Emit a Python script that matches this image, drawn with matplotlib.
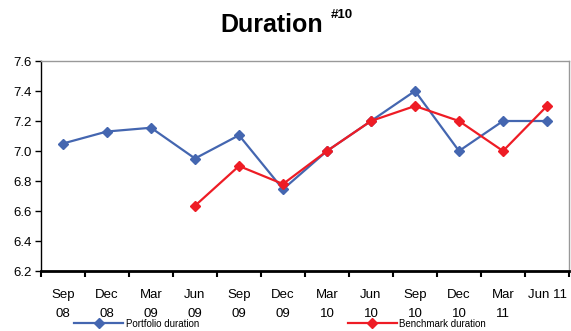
import matplotlib
matplotlib.use("Agg")
import matplotlib.pyplot as plt
from matplotlib.lines import Line2D

plt.rcParams['font.family'] = ['Liberation Sans', 'DejaVu Sans']

quarters = ['Sep\n08', 'Dec\n08', 'Mar\n09', 'Jun\n09', 'Sep\n09', 'Dec\n09',
            'Mar\n10', 'Jun\n10', 'Sep\n10', 'Dec\n10', 'Mar\n11', 'Jun 11\n ']
portfolio = [7.05, 7.13, 7.155, 6.95, 7.105, 6.745, 7.0, 7.2, 7.4, 7.0, 7.2, 7.2]
bench_idx = [3, 4, 5, 6, 7, 8, 9, 10, 11]
benchmark = [6.635, 6.9, 6.78, 7.0, 7.2, 7.3, 7.2, 7.0, 7.3]

blue = '#4466B0'
red = '#EE1C25'

fig = plt.figure(figsize=(5.71, 3.31), dpi=100)
ax = fig.add_axes([41/571, 1-271/331, 528/571, 210/331])

x = list(range(len(quarters)))
ax.plot(x, portfolio, color=blue, lw=1.6, marker='D', ms=5.5, zorder=3)
ax.plot(bench_idx, benchmark, color=red, lw=1.6, marker='D', ms=5.5, zorder=4)

ax.set_xlim(-0.5, len(quarters) - 0.5)
ax.set_ylim(6.2, 7.6)
ax.set_yticks([6.2, 6.4, 6.6, 6.8, 7.0, 7.2, 7.4, 7.6])
ax.set_yticklabels(['%.1f' % v for v in ax.get_yticks()], fontsize=9.5)
ax.set_xticks([i - 0.5 for i in range(len(quarters) + 1)])
ax.set_xticklabels([])
ax.set_xticks(x, minor=True)
ax.set_xticklabels(quarters, minor=True, fontsize=9.5, linespacing=1.75)
ax.tick_params(axis='x', which='minor', length=0, pad=13)
ax.tick_params(axis='x', which='major', length=4, width=1.5, direction='out')
ax.tick_params(axis='y', length=4, width=1, direction='out', pad=3)

for s in ['top', 'right']:
    ax.spines[s].set_color('#999999')
    ax.spines[s].set_linewidth(1)
ax.spines['left'].set_linewidth(1)
ax.spines['bottom'].set_linewidth(2)

fig.text(0.475, 0.925, 'Duration', fontsize=18, fontweight='bold', ha='center', va='center')
fig.text(0.58, 0.955, '#10', fontsize=9.5, fontweight='bold', ha='left', va='center')

handles = [Line2D([], [], color=blue, lw=1.6, marker='D', ms=5),
           Line2D([], [], color=red, lw=1.6, marker='D', ms=5)]
fig.legend(handles, ['Portfolio duration', 'Benchmark duration'], ncol=2,
           loc='center left', bbox_to_anchor=(0.115, 0.022), frameon=False,
           fontsize=7, handlelength=5.0, handletextpad=0.3, columnspacing=15.3)

fig.savefig('out.png', dpi=100)
